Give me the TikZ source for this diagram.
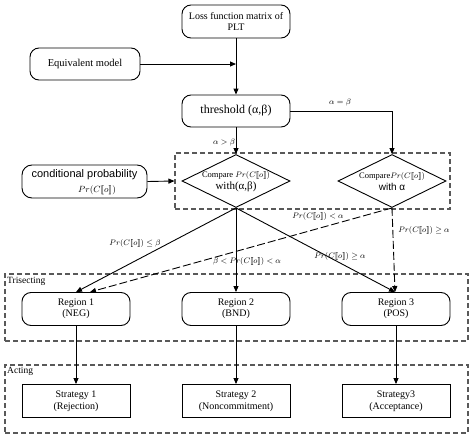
\documentclass[tikz,border=0pt]{standalone}
\usepackage{fontspec}
\setmainfont{Liberation Serif}
\newfontfamily\arialf{Liberation Sans}
\usetikzlibrary{arrows.meta,shapes.geometric,calc}
\newcommand{\PrC}{Pr(C[\![o]\!])}
\begin{document}
\begin{tikzpicture}[x=1pt,y=-1pt,
  rbox/.style={draw,line width=0.9pt,rounded corners=9pt,minimum width=108pt,minimum height=33pt,align=center,inner sep=1pt,font=\fontsize{10}{11.5}\selectfont},
  sbox/.style={draw,line width=0.9pt,minimum width=108pt,minimum height=33pt,align=center,inner sep=1pt,font=\fontsize{10}{11.5}\selectfont},
  dia/.style={draw,line width=0.9pt,diamond,inner sep=0pt,minimum width=108pt,minimum height=53pt},
  cont/.style={draw=black!65,line width=1.1pt,dash pattern=on 5pt off 3pt},
  arr/.style={line width=0.9pt,-{Triangle[length=6pt,width=5pt]}},
  dsh/.style={line width=0.9pt,dash pattern=on 8pt off 3pt},
  lab/.style={font=\fontsize{8.5}{9}\selectfont,inner sep=1pt}
]
\useasboundingbox (0,0) rectangle (474,439);
\fill[white] (0,0) rectangle (474,439);

% containers
\node[cont,minimum width=275pt,minimum height=56pt,inner sep=0pt] (cmp) at (312.5,181) {};
\node[cont,minimum width=463pt,minimum height=67pt,inner sep=0pt] (tri) at (236.5,307.5) {};
\node[cont,minimum width=463pt,minimum height=68pt,inner sep=0pt] (act) at (236.5,399) {};
\node[anchor=north west,inner sep=1pt,font=\fontsize{9.5}{10}\selectfont] (trilab) at (6,276) {Trisecting};
\node[anchor=north west,inner sep=1pt,font=\fontsize{9.5}{10}\selectfont] (actlab) at (6,366) {Acting};

% top boxes
\node[rbox] (loss) at (236,21.5) {Loss function matrix of\\PLT};
\node[rbox,minimum width=110pt,minimum height=32pt,font=\fontsize{10.5}{12}\selectfont] (equiv) at (85,64) {Equivalent model};
\node[rbox,minimum height=32pt,font=\fontsize{12}{13}\selectfont] (thr) at (236,111) {threshold (α,β)};
\node[rbox,minimum width=125pt,minimum height=33pt,rounded corners=10pt] (cond) at (84.5,181.5) {};
\node[font=\arialf\fontsize{11}{12}\selectfont,inner sep=0pt] (condt) at (84.5,175) {conditional probability};
\node[font=\fontsize{9}{10}\selectfont,inner sep=0pt] (condm) at (97,190.5) {$\PrC$};

% diamonds
\node[dia] (d1) at (236,181) {};
\node[align=center,inner sep=0pt] (d1t) at (236,182) {{\fontsize{8.5}{9}\selectfont Compare $\PrC$}\\[0pt]{\fontsize{11}{12}\selectfont with(α,β)}};
\node[dia] (d2) at (392,181) {};
\node[align=center,inner sep=0pt] (d2t) at (392,182) {{\fontsize{8.5}{9}\selectfont Compare$\PrC$}\\[0pt]{\arialf\fontsize{10}{11}\selectfont with α}};

% regions
\node[rbox] (r1) at (76,309) {Region 1\\(NEG)};
\node[rbox] (r2) at (236,309) {Region 2\\(BND)};
\node[rbox] (r3) at (396,309) {Region 3\\(POS)};
% strategies
\node[sbox] (s1) at (76,401) {Strategy 1\\(Rejection)};
\node[sbox] (s2) at (236,401) {Strategy 2\\(Noncommitment)};
\node[sbox] (s3) at (396,401) {Strategy3\\(Acceptance)};

% connectors top
\coordinate (j) at (236,64);
\draw[arr] (loss.south) -- (thr.north);
\draw[arr] (equiv.east) -- (j);
\draw[arr] (thr.south) -- (d1.north);
\draw[arr] (thr.east) -| (d2.north);
\draw[arr] (cond.east) -- (cmp.west);

% connectors middle
\draw[arr] (d1.south) -- (r1.north);
\draw[arr] (d1.south) -- (r2.north);
\draw[arr] (d1.south) -- ([xshift=-1pt]r3.north);
\draw[dsh,-{Triangle[length=6pt,width=5pt]}] (d2.south) -- ([xshift=14pt]r1.north);
\draw[dsh,-{Triangle[length=6pt,width=5pt]}] (d2.south) -- ([xshift=-1pt]r3.north);

% bottom connectors
\draw[arr] (r1) -- (s1);
\draw[arr] (r2) -- (s2);
\draw[arr] (r3) -- (s3);

% labels
\node[lab] (l1) at (340,102) {$\alpha=\beta$};
\node[lab] (l2) at (224,142) {$\alpha>\beta$};
\node[lab] (l3) at (318,216) {$\PrC<\alpha$};
\node[lab] (l4) at (424,230) {$\PrC\ge\alpha$};
\node[lab] (l5) at (135,243) {$\PrC\le\beta$};
\node[lab] (l6) at (340,256) {$\PrC\ge\alpha$};
\node[lab] (l7) at (247,261) {$\beta<\PrC<\alpha$};
\end{tikzpicture}
\end{document}
